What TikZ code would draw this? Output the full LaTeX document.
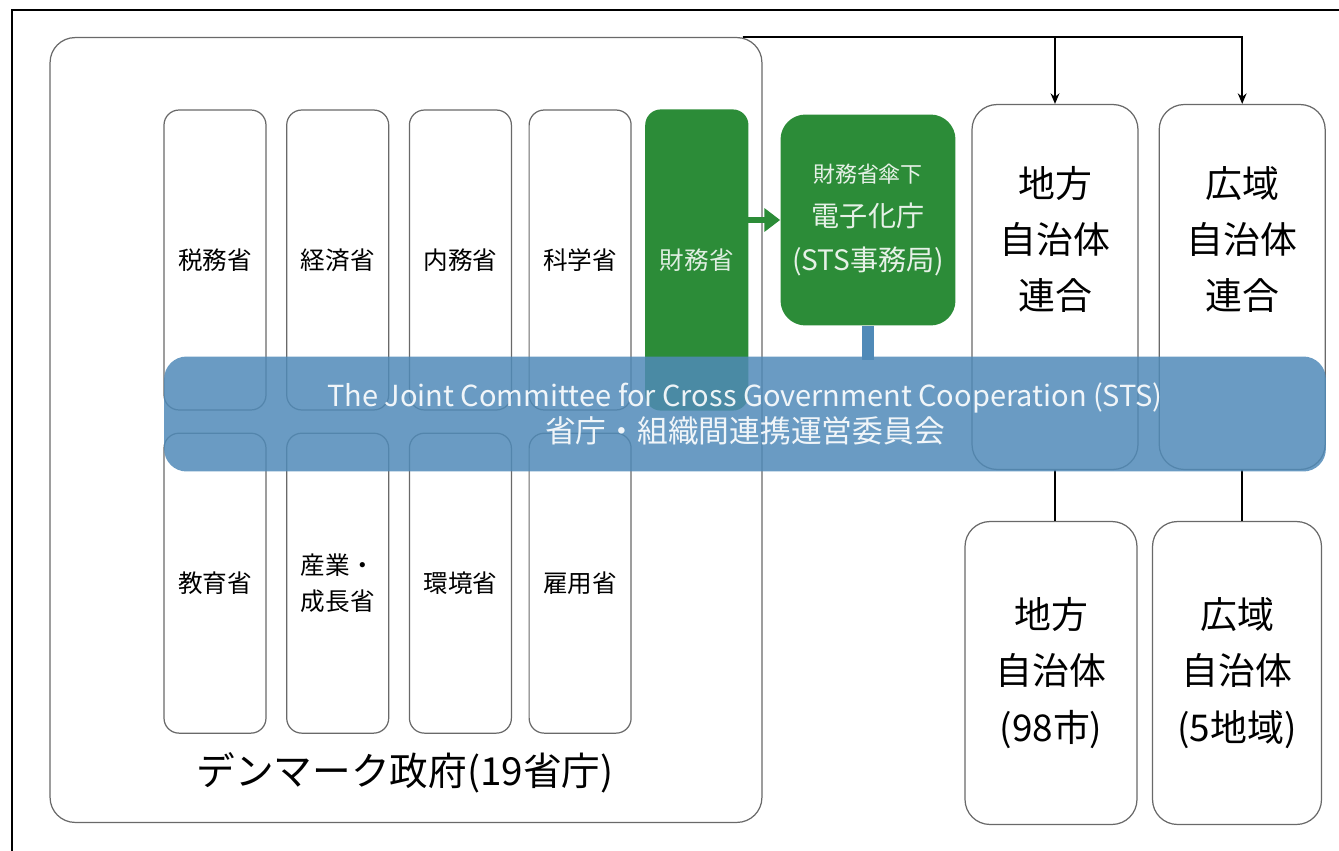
\documentclass[tikz,border=0pt]{standalone}
\usepackage{fontspec}
\setmainfont{Noto Sans CJK JP}
\usetikzlibrary{positioning, arrows.meta}

\definecolor{mofgreen}{RGB}{44,140,56}
\definecolor{stsblue}{RGB}{80,138,184}
\definecolor{boxgray}{RGB}{105,105,105}

\begin{document}
\begin{tikzpicture}[x=0.02cm, y=-0.02cm]
    \tikzstyle{ministry} = [draw=boxgray, line width=0.7pt, rounded corners=0.3cm, minimum width=2.04cm, minimum height=6cm, align=center, font=\fontsize{14}{20}\selectfont];
    \tikzstyle{region} = [draw=boxgray, line width=0.7pt, rounded corners=0.5cm, align=center, font=\fontsize{21}{32}\selectfont];
    \tikzstyle{committee} = [fill=stsblue, fill opacity=0.85, text opacity=0.9, text=white, rounded corners=0.45cm, minimum width=23.24cm, minimum height=2.3cm, align=center, font=\fontsize{16.5}{21}\selectfont];

    \useasboundingbox (0,0) rectangle (1339,851);
    \draw[line width=1.2pt] (12,851) -- (12,10) -- (1339,10);

    % government
    \node[draw=boxgray, line width=0.7pt, rounded corners=0.5cm, minimum width=14.24cm, minimum height=15.7cm] (gov) at (406,430) {};
    \node[font=\fontsize{22}{26}\selectfont] (govname) at (405,773) {デンマーク政府(19省庁)};

    \node[ministry] (tax) at (215,260) {税務省};
    \node[ministry, right = 0.39cm of tax] (econ) {経済省};
    \node[ministry, right = 0.39cm of econ] (interior) {内務省};
    \node[ministry, right = 0.33cm of interior] (science) {科学省};
    \node[ministry, fill=mofgreen, draw=mofgreen, text=white!85!mofgreen, right = 0.27cm of science] (mof) {財務省};

    \node[ministry, below = 0.44cm of tax] (edu) {教育省};
    \node[ministry, below = 0.44cm of econ] (industry) {産業・\\成長省};
    \node[ministry, below = 0.44cm of interior] (env) {環境省};
    \node[ministry, below = 0.44cm of science] (labour) {雇用省};

    % STS secretariat
    \node[fill=mofgreen, rounded corners=0.5cm, minimum width=3.5cm, minimum height=4.22cm, align=center, text=white!88!mofgreen, font=\fontsize{16}{25}\selectfont] (sts) at (868,220) {{\fontsize{12.5}{25}\selectfont 財務省傘下}\\電子化庁\\(STS事務局)};
    \draw[-{Triangle[length=9pt, width=13pt]}, line width=3pt, mofgreen] ([xshift=-0.3cm]mof.east |- sts.west) -- (sts.west);
    \draw[line width=7pt, stsblue] (sts.south) -- (sts.south |- 0,360);

    % municipalities
    \node[region, minimum width=3.32cm, minimum height=7.3cm, label={[region, draw=none, yshift=0.95cm]center:地方\\自治体\\連合}] (lgovunion) at (1055,287) {};
    \node[region, minimum width=3.32cm, minimum height=7.3cm, label={[region, draw=none, yshift=0.95cm]center:広域\\自治体\\連合}, right = 0.4cm of lgovunion] (rgovunion) {};
    \node[region, minimum width=3.44cm, minimum height=6.06cm] (lgov) at (1051,673) {地方\\自治体\\(98市)};
    \node[region, minimum width=3.38cm, minimum height=6.06cm] (rgov) at (1237,673) {広域\\自治体\\(5地域)};

    \draw[-{Stealth[length=6pt, width=5pt]}, line width=0.9pt] ([xshift=-0.4cm]gov.north east) -| (lgovunion.north);
    \draw[-{Stealth[length=6pt, width=5pt]}, line width=0.9pt] ([xshift=-0.4cm]gov.north east) -| (rgovunion.north);
    \draw[line width=0.9pt] (lgovunion.south) -- (lgovunion.south |- lgov.north);
    \draw[line width=0.9pt] (rgovunion.south) -- (rgovunion.south |- rgov.north);

    % joint committee
    \node[committee] (stscommittee) at (745,414) {The Joint Committee for Cross Government Cooperation (STS)\\{\fontsize{17.5}{21}\selectfont 省庁・組織間連携運営委員会}};
\end{tikzpicture}
\end{document}
